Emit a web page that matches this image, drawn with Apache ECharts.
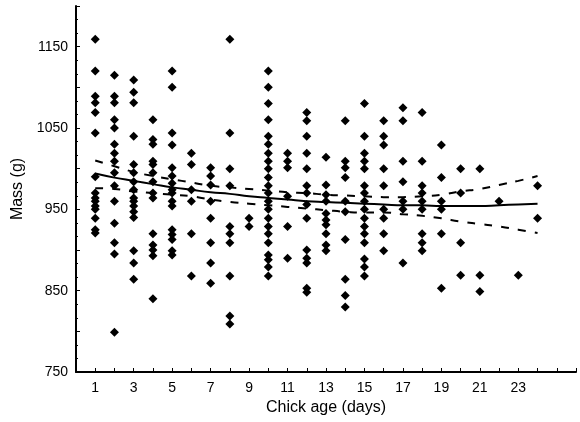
<!DOCTYPE html>
<html>
<head>
<meta charset="utf-8">
<script src="https://cdn.jsdelivr.net/npm/echarts@6/dist/echarts.min.js"></script>
<style>
html,body{margin:0;padding:0;background:#fff;}
#chart{width:580px;height:422px;}
</style>
</head>
<body>
<div id="chart"></div>
<script>
// Observed masses (g) per chick age (days)
var day1  = [1159,1120,1089,1081,1069,1044,990,970,964,960,954,950,939,925,921];
var day2  = [1115,1089,1081,1060,1050,1030,1019,1009,995,979,960,933,909,895,799];
var day3  = [1109,1094,1081,1040,1005,995,984,974,964,960,954,947,940,899,884,864];
var day4  = [1060,1036,1030,1009,1005,995,984,970,964,920,906,900,893,840];
var day5  = [1120,1100,1044,1029,1001,991,982,974,970,960,954,925,919,913,899,894];
var day6  = [1019,1005,974,960,920,868];
var day7  = [1001,991,980,960,939,909,884,859];
var day8  = [1159,1044,1000,979,929,920,909,868,819,809];
var day9  = [939,929];
var day10 = [1120,1100,1080,1060,1040,1030,1019,1009,1000,989,979,970,960,950,939,929,920,909,894,888,879,868];
var day11 = [1019,1009,1001,966,929,890];
var day12 = [1069,1059,1040,1019,1000,979,970,956,939,900,890,884,853,848];
var day13 = [1014,980,968,960,945,937,931,920,906,899];
var day14 = [1059,1009,1001,989,960,947,913,864,844,830];
var day15 = [1080,1040,1019,1009,1000,979,970,960,950,939,929,920,909,889,879,868];
var day16 = [1059,1040,1029,1000,979,950,939,920,899];
var day17 = [1075,1059,1009,984,960,950,884];
var day18 = [1069,1009,979,970,960,950,920,909,899];
var day19 = [1029,989,960,950,920,853];
var day20 = [1000,970,909,869];
var day21 = [1000,869,849];
var day22 = [960];
var day23 = [869];
var day24 = [979,939];
var massByDay = [day1,day2,day3,day4,day5,day6,day7,day8,day9,day10,day11,day12,
                 day13,day14,day15,day16,day17,day18,day19,day20,day21,day22,day23,day24];

// Fitted curve and confidence limits at each day
var curveDays = [1,2,3,4,5,6,7,8,9,10,11,12,13,14,15,16,17,18,19,20,21,22,23,24];
var fitMass   = [994,989,985,981,977,974,971,969,966,964,962,960,959,958,957,956,955,955,954,954,954,955,956,957];
var upperMass = [1010,1003,996,991,987,983,979,977,975,973,971,970,968,967,966,965,965,966,968,972,975,980,985,991];
var lowerMass = [976,975,972,970,968,966,962,959,957,955,953,951,949,947,946,946,944,942,939,935,932,929,925,921];

// Axis tick labels
var xTickLabels = [1,3,5,7,9,11,13,15,17,19,21,23];
var yTickLabels = [750,850,950,1050,1150];

var points = [];
massByDay.forEach(function(arr, i){
  arr.forEach(function(v){ points.push([i+1, v]); });
});
function pairs(xs, ys){ return xs.map(function(x,i){ return [x, ys[i]]; }); }

var FONT = "'Liberation Sans', Arial, sans-serif";
var chart = echarts.init(document.getElementById('chart'), null, {renderer:'canvas'});
chart.setOption({
  animation:false,
  backgroundColor:'#fff',
  grid:{left:76, right:4, top:6, bottom:50, containLabel:false},
  xAxis:{
    type:'value', min:0, max:26, interval:1,
    name:'Chick age (days)', nameLocation:'middle', nameGap:28,
    nameTextStyle:{color:'#000', fontFamily:FONT, fontSize:16},
    axisLine:{show:true, onZero:false, lineStyle:{color:'#000', width:2}},
    axisTick:{show:true, inside:true, length:4, lineStyle:{color:'#000', width:1}},
    axisLabel:{color:'#000', fontFamily:FONT, fontSize:14, margin:9,
      formatter:function(v){ return xTickLabels.indexOf(v) >= 0 ? String(v) : ''; }},
    splitLine:{show:false}
  },
  yAxis:{
    type:'value', min:750, max:1200, interval:50,
    name:'Mass (g)', nameLocation:'middle', nameGap:46, nameRotate:90,
    nameTextStyle:{color:'#000', fontFamily:FONT, fontSize:16},
    axisLine:{show:true, onZero:false, lineStyle:{color:'#000', width:2}},
    axisTick:{show:true, inside:true, length:4, lineStyle:{color:'#000', width:1}},
    minorTick:{show:true, splitNumber:3, length:2, lineStyle:{color:'#000', width:1}},
    axisLabel:{color:'#000', fontFamily:FONT, fontSize:14, margin:8,
      formatter:function(v){ return yTickLabels.indexOf(v) >= 0 ? String(v) : ''; }},
    splitLine:{show:false}
  },
  series:[
    {type:'scatter', data:points, symbol:'diamond', symbolSize:[9,9],
     itemStyle:{color:'#000', opacity:1}, z:2},
    {type:'line', data:pairs(curveDays, fitMass), smooth:true, showSymbol:false,
     lineStyle:{color:'#000', width:2}, z:3},
    {type:'line', data:pairs(curveDays, upperMass), smooth:true, showSymbol:false,
     lineStyle:{color:'#000', width:2, type:[8,9]}, z:3},
    {type:'line', data:pairs(curveDays, lowerMass), smooth:true, showSymbol:false,
     lineStyle:{color:'#000', width:2, type:[8,9]}, z:3}
  ]
});
</script>
</body>
</html>
